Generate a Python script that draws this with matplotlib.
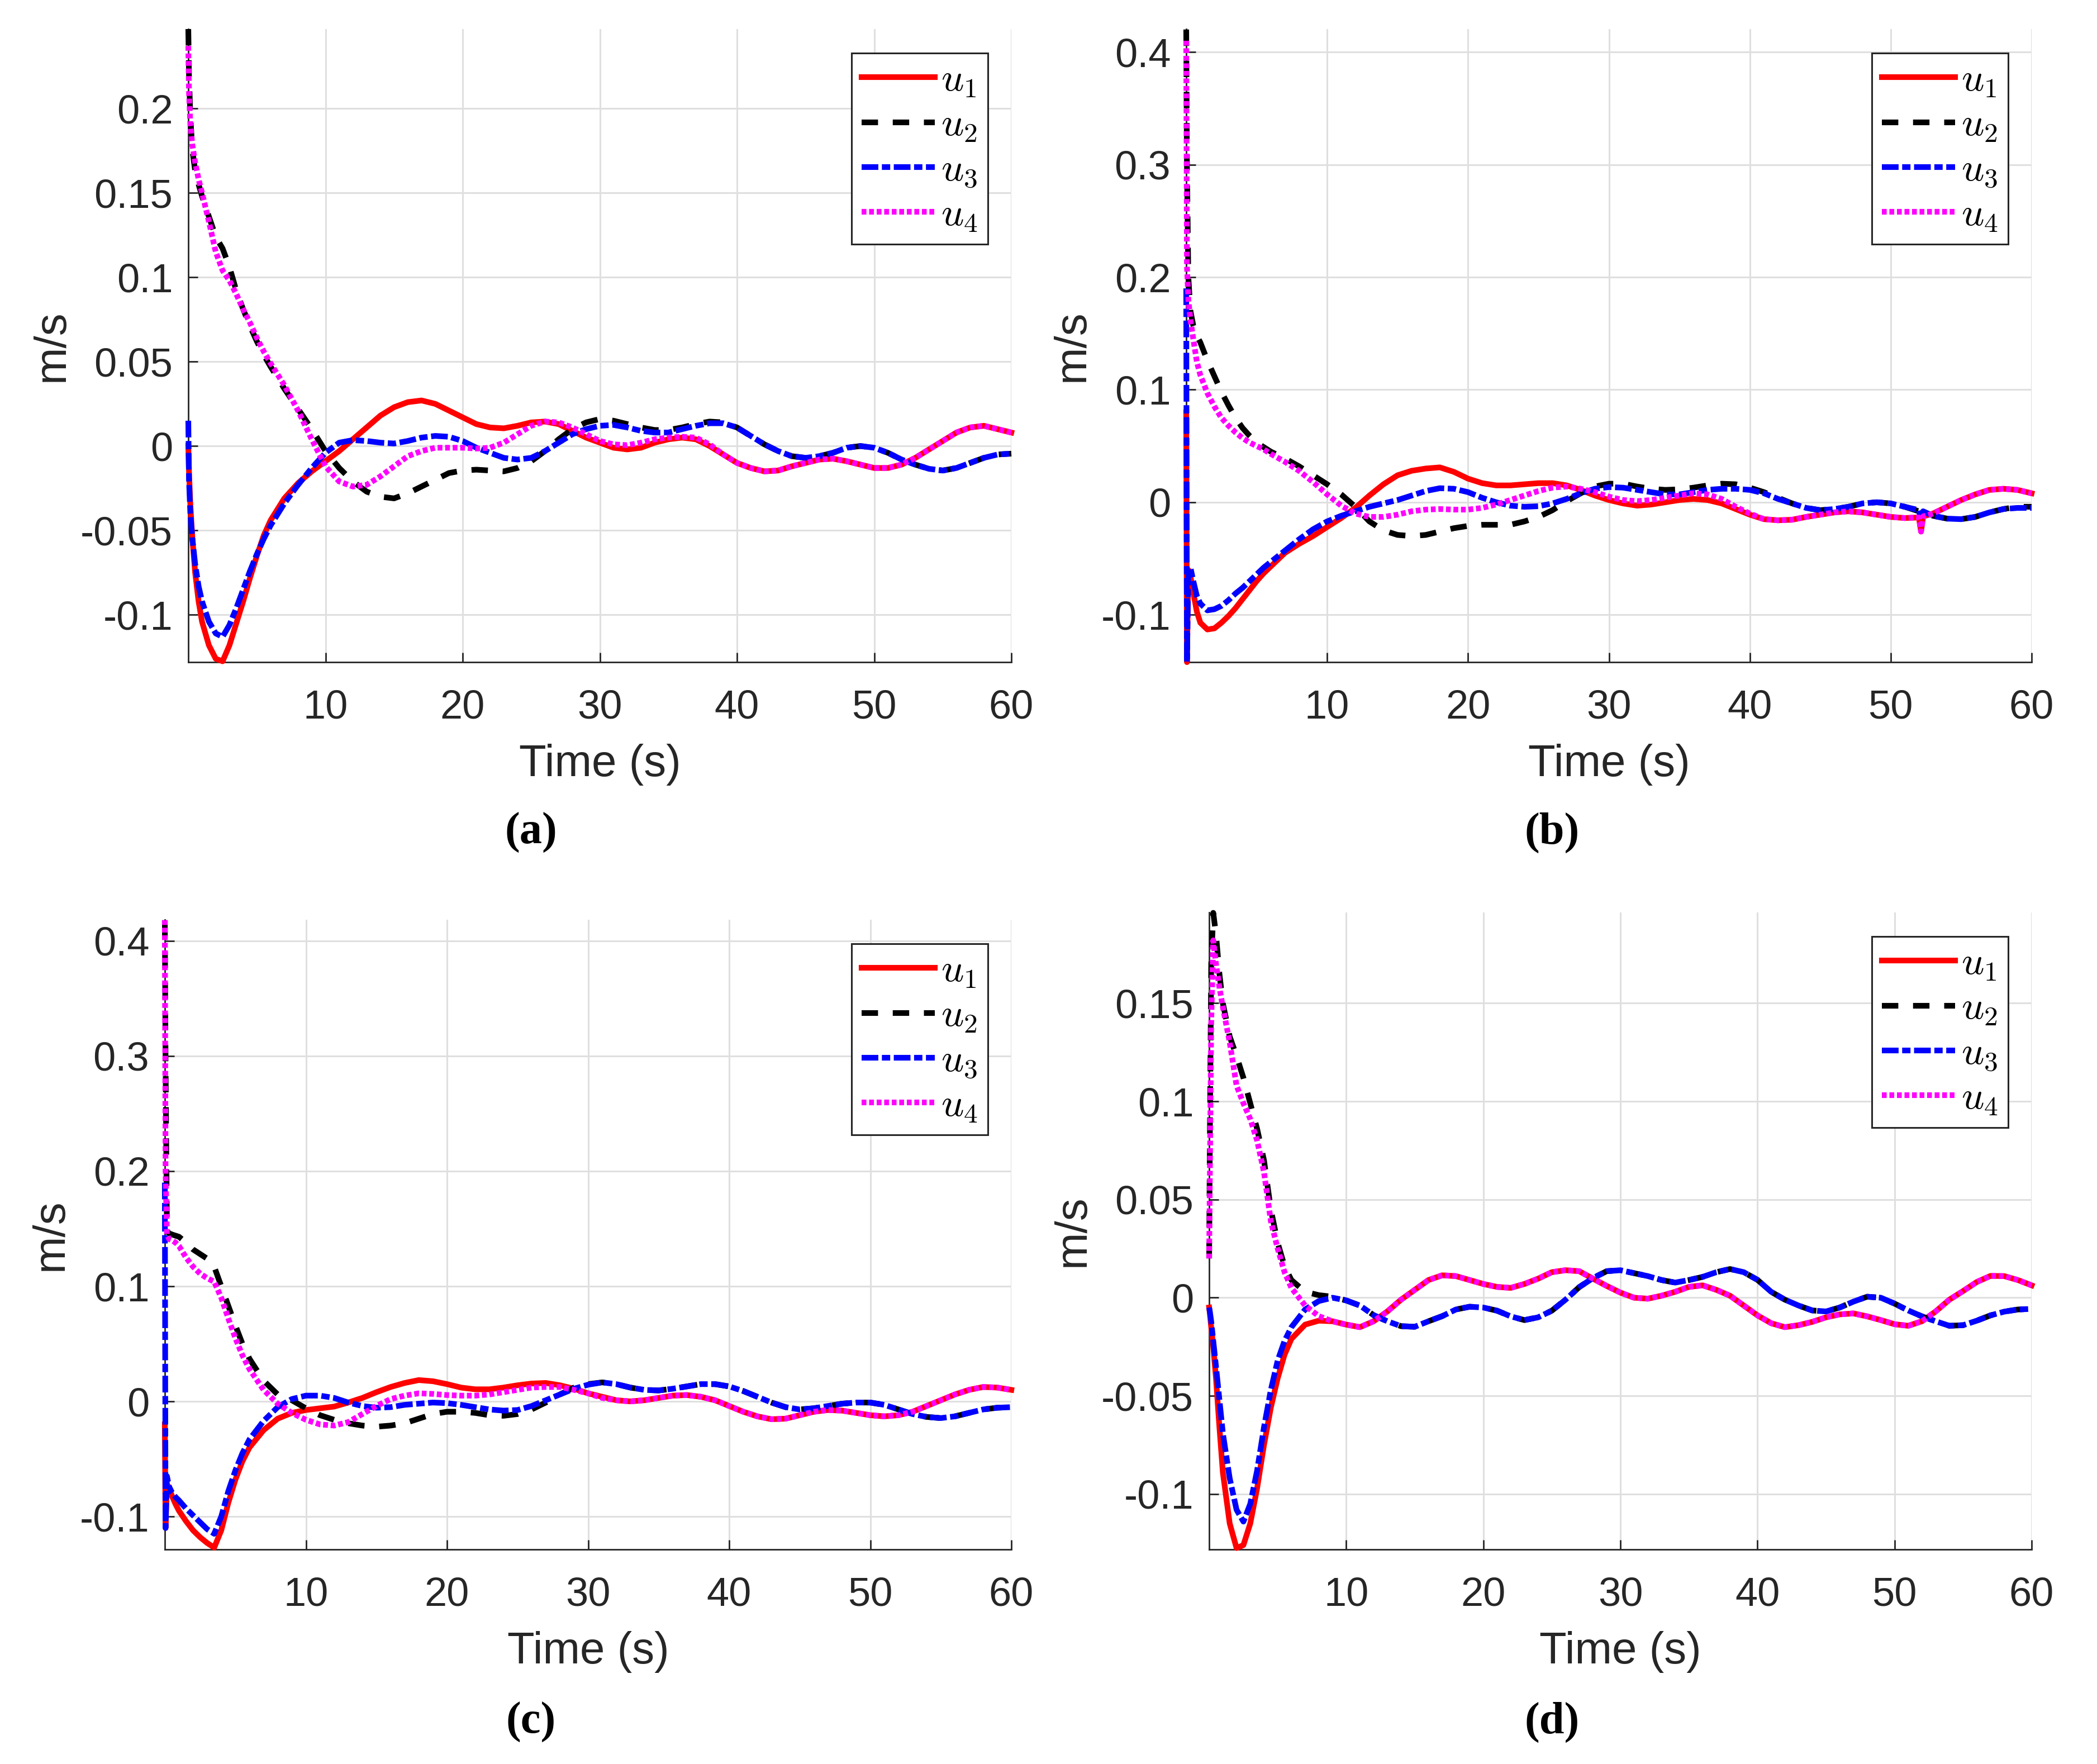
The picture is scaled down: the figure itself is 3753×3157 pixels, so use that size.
import matplotlib
matplotlib.use("Agg")
import matplotlib.pyplot as plt

plt.rcParams["font.family"] = ["Liberation Sans", "DejaVu Sans"]
plt.rcParams["axes.unicode_minus"] = False
plt.rcParams["mathtext.fontset"] = "cm"

# time grids (s); panel (b) has a short glitch near t = 52 s
T_EARLY = [0, 0.05, 0.15, 0.3, 0.5, 0.75, 1, 1.5, 2, 2.5, 3, 3.5, 4, 4.5, 5, 5.5, 6]
T_A = T_EARLY + list(range(7, 61))
T_B = T_EARLY + list(range(7, 53)) + [52.15, 52.3] + list(range(53, 61))
T_C = T_A
T_D = T_A

# ---- panel (a) ----
U1_A = [0.0, -0.015, -0.035, -0.055, -0.075, -0.092, -0.104, -0.118, -0.126, -0.1275, -0.118, -0.105, -0.092, -0.078, -0.065, -0.053, -0.044,
        -0.031, -0.022, -0.015, -0.009, -0.003, 0.004, 0.011, 0.018, 0.023, 0.026,
        0.027, 0.025, 0.021, 0.017, 0.013, 0.011, 0.0105, 0.012, 0.014, 0.0145,
        0.013, 0.009, 0.005, 0.002, -0.001, -0.002, -0.001, 0.002, 0.004, 0.005,
        0.004, 0.0, -0.005, -0.010, -0.013, -0.015, -0.0145, -0.012, -0.010, -0.008,
        -0.0075, -0.009, -0.011, -0.013, -0.013, -0.011, -0.007, -0.002, 0.003, 0.008,
        0.011, 0.012, 0.010, 0.008]
U2_A = [0.247, 0.22, 0.195, 0.175, 0.163, 0.155, 0.148, 0.136, 0.124, 0.117, 0.106, 0.092, 0.081, 0.071, 0.062, 0.054, 0.047,
        0.034, 0.022, 0.010, -0.003, -0.013, -0.021, -0.027, -0.030, -0.031, -0.028,
        -0.024, -0.020, -0.016, -0.0145, -0.014, -0.0145, -0.015, -0.013, -0.009, -0.003,
        0.004, 0.010, 0.014, 0.016, 0.015, 0.013, 0.011, 0.0095, 0.0095, 0.011,
        0.013, 0.0145, 0.014, 0.011, 0.006, 0.001, -0.003, -0.006, -0.007, -0.006,
        -0.004, -0.001, 0.0, -0.001, -0.004, -0.008, -0.011, -0.0135, -0.0145, -0.013,
        -0.010, -0.007, -0.005, -0.0045]
U3_A = [0.015, -0.02, -0.04, -0.055, -0.070, -0.083, -0.092, -0.104, -0.111, -0.113, -0.106, -0.096, -0.085, -0.074, -0.064, -0.055, -0.047,
        -0.034, -0.023, -0.013, -0.004, 0.002, 0.0035, 0.003, 0.002, 0.0015, 0.003,
        0.005, 0.006, 0.0055, 0.003, -0.001, -0.004, -0.007, -0.008, -0.007, -0.003,
        0.002, 0.007, 0.010, 0.012, 0.0125, 0.011, 0.009, 0.008, 0.008, 0.010,
        0.012, 0.0135, 0.0135, 0.011, 0.006, 0.001, -0.003, -0.006, -0.007, -0.006,
        -0.004, -0.001, 0.0, -0.001, -0.004, -0.008, -0.011, -0.0135, -0.0145, -0.013,
        -0.010, -0.007, -0.005, -0.0045]
U4_A = [0.237, 0.21, 0.19, 0.178, 0.168, 0.158, 0.150, 0.133, 0.115, 0.104, 0.098, 0.090, 0.081, 0.073, 0.064, 0.056, 0.049,
        0.036, 0.021, 0.004, -0.012, -0.021, -0.024, -0.023, -0.018, -0.012, -0.006,
        -0.003, -0.001, -0.001, -0.001, -0.0015, -0.001, 0.002, 0.007, 0.012, 0.0145,
        0.014, 0.011, 0.007, 0.003, 0.001, 0.0005, 0.002, 0.004, 0.005, 0.0055,
        0.005, 0.001, -0.005, -0.010, -0.013, -0.015, -0.0145, -0.012, -0.010, -0.008,
        -0.0075, -0.009, -0.011, -0.013, -0.013, -0.011, -0.007, -0.002, 0.003, 0.008,
        0.011, 0.012, 0.010, 0.008]

# ---- panel (b) ----
U1_B = [0.08, -0.142, -0.06, -0.066, -0.080, -0.097, -0.107, -0.113, -0.112, -0.107, -0.101, -0.094, -0.086, -0.078, -0.070, -0.063, -0.057,
        -0.045, -0.037, -0.030, -0.022, -0.014, -0.005, 0.006, 0.016, 0.024, 0.028,
        0.030, 0.031, 0.027, 0.021, 0.017, 0.015, 0.015, 0.016, 0.017, 0.017,
        0.015, 0.011, 0.006, 0.002, -0.001, -0.003, -0.002, 0.000, 0.002, 0.003,
        0.002, -0.001, -0.006, -0.011, -0.015, -0.016, -0.0155, -0.013, -0.011, -0.009,
        -0.008, -0.009, -0.011, -0.013, -0.014, -0.0135, -0.026, -0.0125,
        -0.010, -0.004, 0.002, 0.007,
        0.011, 0.012, 0.011, 0.008]
U2_B = [0.42, 0.30, 0.20, 0.17, 0.157, 0.148, 0.142, 0.126, 0.112, 0.098, 0.086, 0.075, 0.066, 0.059, 0.053, 0.049, 0.045,
        0.039, 0.032, 0.024, 0.016, 0.007, -0.004, -0.017, -0.025, -0.029, -0.030,
        -0.029, -0.026, -0.023, -0.021, -0.020, -0.020, -0.020, -0.017, -0.013, -0.007,
        0.001, 0.008, 0.014, 0.0165, 0.0165, 0.014, 0.012, 0.011, 0.0115, 0.013,
        0.015, 0.0165, 0.016, 0.013, 0.009, 0.004, -0.001, -0.005, -0.007, -0.006,
        -0.004, -0.001, 0.000, -0.001, -0.004, -0.008, -0.0085, -0.009,
        -0.012, -0.0145, -0.015, -0.013,
        -0.009, -0.006, -0.004, -0.004]
U3_B = [0.19, -0.142, -0.06, -0.058, -0.070, -0.083, -0.090, -0.096, -0.095, -0.092, -0.087, -0.081, -0.076, -0.070, -0.064, -0.058, -0.053,
        -0.043, -0.033, -0.024, -0.017, -0.012, -0.008, -0.004, -0.001, 0.002, 0.006,
        0.010, 0.0125, 0.012, 0.009, 0.004, 0.000, -0.003, -0.004, -0.0035, -0.001,
        0.003, 0.008, 0.012, 0.0135, 0.013, 0.011, 0.009, 0.007, 0.007, 0.009,
        0.011, 0.012, 0.012, 0.011, 0.008, 0.003, -0.001, -0.005, -0.007, -0.006,
        -0.004, -0.001, 0.000, -0.001, -0.004, -0.007, -0.016, -0.008,
        -0.012, -0.0145, -0.015, -0.013,
        -0.009, -0.006, -0.005, -0.005]
U4_B = [0.41, 0.21, 0.18, 0.162, 0.145, 0.125, 0.113, 0.097, 0.085, 0.075, 0.068, 0.062, 0.057, 0.053, 0.050, 0.047, 0.043,
        0.036, 0.028, 0.018, 0.007, -0.003, -0.010, -0.013, -0.013, -0.011, -0.008,
        -0.0065, -0.006, -0.0065, -0.0065, -0.005, -0.002, 0.002, 0.006, 0.010, 0.013,
        0.014, 0.012, 0.009, 0.005, 0.002, 0.001, 0.002, 0.004, 0.006, 0.008,
        0.007, 0.003, -0.004, -0.010, -0.015, -0.016, -0.0155, -0.013, -0.011, -0.009,
        -0.008, -0.009, -0.011, -0.013, -0.014, -0.0135, -0.026, -0.0125,
        -0.010, -0.004, 0.002, 0.007,
        0.011, 0.012, 0.011, 0.008]

# ---- panel (c) ----
U1_C = [-0.02, -0.11, -0.072, -0.075, -0.082, -0.089, -0.095, -0.104, -0.112, -0.118, -0.123, -0.127, -0.112, -0.088, -0.068, -0.052, -0.040,
        -0.025, -0.015, -0.010, -0.0075, -0.006, -0.0045, -0.001, 0.003, 0.008, 0.0125,
        0.016, 0.0185, 0.0175, 0.015, 0.012, 0.0105, 0.0105, 0.012, 0.014, 0.0155,
        0.016, 0.014, 0.011, 0.007, 0.004, 0.001, 0.000, 0.001, 0.003, 0.005,
        0.0055, 0.004, 0.001, -0.004, -0.009, -0.013, -0.0155, -0.015, -0.012, -0.009,
        -0.0075, -0.008, -0.010, -0.012, -0.013, -0.012, -0.009, -0.004, 0.001, 0.006,
        0.010, 0.0125, 0.012, 0.010]
U2_C = [0.418, 0.30, 0.148, 0.146, 0.145, 0.144, 0.143, 0.138, 0.132, 0.128, 0.124, 0.117, 0.100, 0.083, 0.066, 0.050, 0.037,
        0.018, 0.006, 0.001, -0.006, -0.012, -0.016, -0.019, -0.021, -0.022, -0.021,
        -0.019, -0.015, -0.011, -0.009, -0.009, -0.010, -0.012, -0.0125, -0.011, -0.007,
        -0.001, 0.006, 0.012, 0.015, 0.0165, 0.015, 0.012, 0.010, 0.0095, 0.011,
        0.013, 0.015, 0.015, 0.013, 0.009, 0.004, -0.001, -0.005, -0.007, -0.006,
        -0.004, -0.002, -0.001, -0.001, -0.003, -0.007, -0.011, -0.0135, -0.0145, -0.013,
        -0.010, -0.007, -0.0055, -0.005]
U3_C = [0.19, -0.11, -0.065, -0.074, -0.079, -0.083, -0.086, -0.093, -0.099, -0.105, -0.111, -0.115, -0.100, -0.078, -0.060, -0.045, -0.033,
        -0.017, -0.005, 0.002, 0.005, 0.005, 0.003, -0.001, -0.004, -0.0055, -0.005,
        -0.003, -0.002, -0.001, -0.0015, -0.003, -0.005, -0.007, -0.008, -0.0075, -0.004,
        0.001, 0.006, 0.011, 0.0145, 0.0165, 0.015, 0.012, 0.010, 0.0095, 0.011,
        0.013, 0.015, 0.015, 0.013, 0.009, 0.004, -0.001, -0.005, -0.007, -0.006,
        -0.004, -0.002, -0.001, -0.001, -0.003, -0.007, -0.011, -0.0135, -0.0145, -0.013,
        -0.010, -0.007, -0.0055, -0.005]
U4_C = [0.418, 0.20, 0.145, 0.141, 0.140, 0.138, 0.135, 0.125, 0.117, 0.111, 0.107, 0.104, 0.090, 0.072, 0.055, 0.040, 0.028,
        0.010, -0.002, -0.010, -0.016, -0.020, -0.021, -0.018, -0.011, -0.004, 0.002,
        0.005, 0.007, 0.0065, 0.0055, 0.005, 0.005, 0.006, 0.008, 0.010, 0.012,
        0.0125, 0.0125, 0.010, 0.007, 0.003, 0.001, 0.000, 0.001, 0.003, 0.005,
        0.0055, 0.004, 0.001, -0.004, -0.009, -0.013, -0.0155, -0.015, -0.012, -0.009,
        -0.0075, -0.008, -0.010, -0.012, -0.013, -0.012, -0.009, -0.004, 0.001, 0.006,
        0.010, 0.0125, 0.012, 0.010]

# ---- panel (d) ----
U1_D = [-0.005, -0.008, -0.015, -0.025, -0.041, -0.066, -0.089, -0.115, -0.1275, -0.126, -0.115, -0.097, -0.075, -0.056, -0.041, -0.029, -0.021,
        -0.0137, -0.0117, -0.012, -0.0137, -0.015, -0.012, -0.007, -0.001, 0.004, 0.009,
        0.0114, 0.011, 0.009, 0.007, 0.0055, 0.005, 0.007, 0.0097, 0.013, 0.014,
        0.0135, 0.0097, 0.006, 0.0026, 0.0, -0.0005, 0.001, 0.003, 0.0055, 0.0063,
        0.004, 0.001, -0.004, -0.009, -0.013, -0.015, -0.014, -0.0123, -0.010, -0.0085,
        -0.008, -0.0095, -0.0114, -0.0135, -0.0143, -0.012, -0.007, -0.001, 0.0034, 0.008,
        0.0111, 0.011, 0.009, 0.0063]
U2_D = [0.02, 0.08, 0.17, 0.196, 0.185, 0.165, 0.150, 0.133, 0.123, 0.112, 0.099, 0.086, 0.070, 0.045, 0.028, 0.016, 0.009,
        0.003, 0.0013, 0.0005, -0.0014, -0.004, -0.0089, -0.012, -0.0145, -0.0148, -0.012,
        -0.0094, -0.006, -0.0046, -0.005, -0.0066, -0.0095, -0.0114, -0.010, -0.0066, -0.001,
        0.0054, 0.010, 0.0135, 0.014, 0.0125, 0.011, 0.009, 0.0077, 0.009, 0.0106,
        0.013, 0.0146, 0.013, 0.0091, 0.003, -0.001, -0.004, -0.0065, -0.007, -0.005,
        -0.002, 0.0005, 0.0, -0.003, -0.0065, -0.0095, -0.012, -0.0143, -0.014, -0.0117,
        -0.009, -0.0071, -0.006, -0.0057]
U3_D = [-0.005, -0.007, -0.012, -0.022, -0.035, -0.052, -0.069, -0.092, -0.108, -0.114, -0.105, -0.088, -0.066, -0.047, -0.032, -0.022, -0.015,
        -0.006, -0.0017, 0.0, -0.0014, -0.004, -0.0089, -0.012, -0.0145, -0.0148, -0.012,
        -0.0094, -0.006, -0.0046, -0.005, -0.0066, -0.0095, -0.0114, -0.010, -0.0066, -0.001,
        0.0054, 0.010, 0.0135, 0.014, 0.0125, 0.011, 0.009, 0.0077, 0.009, 0.0106,
        0.013, 0.0146, 0.013, 0.0091, 0.003, -0.001, -0.004, -0.0065, -0.007, -0.005,
        -0.002, 0.0005, 0.0, -0.003, -0.0065, -0.0095, -0.012, -0.0143, -0.014, -0.0117,
        -0.009, -0.0071, -0.006, -0.0057]
U4_D = [0.02, 0.06, 0.14, 0.182, 0.17, 0.158, 0.148, 0.130, 0.108, 0.099, 0.091, 0.080, 0.064, 0.039, 0.025, 0.013, 0.005,
        -0.004, -0.0094, -0.012, -0.0137, -0.015, -0.012, -0.007, -0.001, 0.004, 0.009,
        0.0114, 0.011, 0.009, 0.007, 0.0055, 0.005, 0.007, 0.0097, 0.013, 0.014,
        0.0135, 0.0097, 0.006, 0.0026, 0.0, -0.0005, 0.001, 0.003, 0.0055, 0.0063,
        0.004, 0.001, -0.004, -0.009, -0.013, -0.015, -0.014, -0.0123, -0.010, -0.0085,
        -0.008, -0.0095, -0.0114, -0.0135, -0.0143, -0.012, -0.007, -0.001, 0.0034, 0.008,
        0.0111, 0.011, 0.009, 0.0063]

LABELS = [r"$u_1$", r"$u_2$", r"$u_3$", r"$u_4$"]
COLORS = ["#ff0000", "#000000", "#0000ff", "#ff00ff"]
STYLES = ["-", (0, (2.9, 2.6)), (0, (2.95, 0.63, 1.47, 0.63)), (0, (0.85, 0.48))]

YLIMS = {"a": (-0.128, 0.247), "b": (-0.142, 0.4204), "c": (-0.1286, 0.4184), "d": (-0.1282, 0.1962)}
YTICKS = {"a": [-0.1, -0.05, 0, 0.05, 0.1, 0.15, 0.2],
          "b": [-0.1, 0, 0.1, 0.2, 0.3, 0.4],
          "c": [-0.1, 0, 0.1, 0.2, 0.3, 0.4],
          "d": [-0.1, -0.05, 0, 0.05, 0.1, 0.15]}
XTICKS = [10, 20, 30, 40, 50, 60]

W, H = 3753, 3157
# axes boxes in pixels: left, top, right, bottom
BOX = {"a": (337, 52, 1810, 1185), "b": (2123, 52, 3636, 1185),
       "c": (295, 1646, 1810, 2773), "d": (2164, 1633, 3636, 2773)}
CAPTION_XY = {"a": (950, 1490), "b": (2778, 1490), "c": (950, 3082), "d": (2778, 3082)}

DARK = "#262626"

fig = plt.figure(figsize=(W / 100, H / 100), dpi=100)

panels = {"a": (T_A, [U1_A, U2_A, U3_A, U4_A]),
          "b": (T_B, [U1_B, U2_B, U3_B, U4_B]),
          "c": (T_C, [U1_C, U2_C, U3_C, U4_C]),
          "d": (T_D, [U1_D, U2_D, U3_D, U4_D])}

for key, (t, series) in panels.items():
    l, tp, r, b = BOX[key]
    ax = fig.add_axes([l / W, 1 - b / H, (r - l) / W, (b - tp) / H])
    for u, lab, c, ls in zip(series, LABELS, COLORS, STYLES):
        ax.plot(t, u, color=c, ls=ls, lw=7.3, label=lab, zorder=3, clip_on=False,
                solid_joinstyle="round", dash_joinstyle="round")
    ax.set_xlim(0, 60)
    ax.set_ylim(*YLIMS[key])
    ax.set_xticks(XTICKS)
    ax.set_yticks(YTICKS[key])
    ax.set_yticklabels([f"{v:g}" for v in YTICKS[key]])
    ax.grid(True, color="#dfdfdf", lw=2.2)
    ax.set_axisbelow(True)
    for s in ("top", "right"):
        ax.spines[s].set_visible(False)
    for s in ("left", "bottom"):
        ax.spines[s].set_color(DARK)
        ax.spines[s].set_linewidth(2)
    ax.tick_params(direction="in", length=12, width=2, color=DARK, labelcolor=DARK, labelsize=52)
    ax.tick_params(axis="y", pad=20)
    ax.tick_params(axis="x", pad=35)
    ax.set_xlabel("Time (s)", fontsize=57.5, color=DARK, labelpad=22)
    ax.set_ylabel("m/s", fontsize=57.5, color=DARK, labelpad=10)
    leg = ax.legend(loc="upper right", fontsize=51, fancybox=False, edgecolor=DARK, framealpha=1,
                    borderaxespad=0.6, handlelength=1.85, handletextpad=0.16, labelspacing=0.2,
                    borderpad=0.25)
    leg.get_frame().set_linewidth(2.2)
    cx, cy = CAPTION_XY[key]
    fig.text(cx / W, 1 - cy / H, f"({key})", ha="center", va="center", fontsize=58,
             fontweight="bold", family="Liberation Serif")

fig.savefig("out.png", dpi=100)
